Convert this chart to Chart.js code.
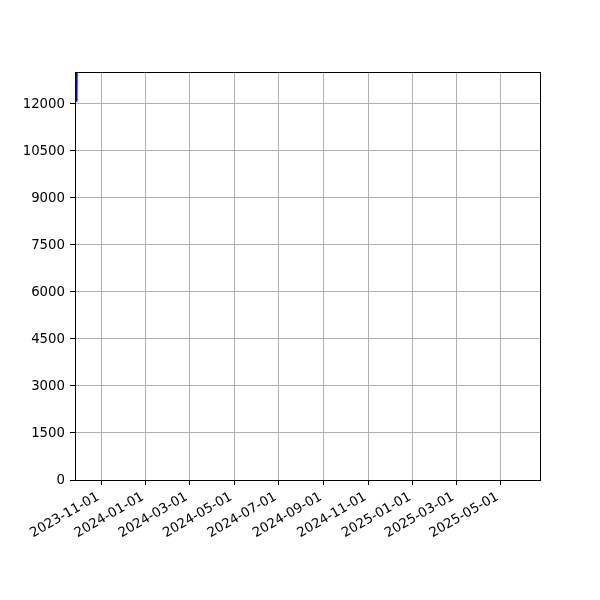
<!DOCTYPE html>
<html>
<head>
<meta charset="utf-8">
<script src="https://cdn.jsdelivr.net/npm/chart.js@4/dist/chart.umd.min.js"></script>
<style>
html,body{margin:0;padding:0;background:#fff;}
#wrap{width:600px;height:600px;}
</style>
</head>
<body>
<div id="wrap"><canvas id="c" width="600" height="600"></canvas></div>
<script>
const dates = ['2023-09-28', '2023-09-29'];
const values = [12050, 15000];
const xTickLabels = ['2023-11-01','2024-01-01','2024-03-01','2024-05-01','2024-07-01','2024-09-01','2024-11-01','2025-01-01','2025-03-01','2025-05-01'];
const yTickValues = [0,1500,3000,4500,6000,7500,9000,10500,12000];
const xRange = ['2023-09-26', '2025-06-24'];
const yRange = [0, 13000];

const toMs = s => Date.parse(s + 'T00:00:00Z');
const fmt = ms => new Date(ms).toISOString().slice(0,10);

const boxPlugin = {
  id: 'box',
  afterDraw(chart) {
    const a = chart.chartArea, ctx = chart.ctx;
    ctx.save();
    ctx.strokeStyle = '#000';
    ctx.lineWidth = 1;
    ctx.strokeRect(Math.round(a.left)+0.5, Math.round(a.top)+0.5, Math.round(a.right-a.left), Math.round(a.bottom-a.top));
    ctx.restore();
  }
};

new Chart(document.getElementById('c'), {
  type: 'line',
  data: {
    datasets: [{
      data: dates.map((d,i) => ({x: toMs(d), y: values[i]})),
      borderColor: '#0000ff',
      borderWidth: 2,
      pointRadius: 0,
      fill: false,
      tension: 0
    }]
  },
  options: {
    responsive: false,
    animation: false,
    devicePixelRatio: 1,
    layout: { padding: { top: 72, right: 60, left: 0, bottom: 0 } },
    plugins: { legend: { display: false }, tooltip: { enabled: false } },
    scales: {
      x: {
        type: 'linear',
        min: toMs(xRange[0]),
        max: toMs(xRange[1]),
        afterBuildTicks: s => { s.ticks = xTickLabels.map(t => ({value: toMs(t)})); },
        afterFit: s => { s.height = 120; },
        grid: { color: '#b0b0b0', lineWidth: 1, tickColor: '#000', tickLength: 5, drawTicks: true },
        border: { color: '#000', width: 1 },
        ticks: {
          autoSkip: false,
          minRotation: 30, maxRotation: 30,
          color: '#000',
          padding: 4,
          labelOffset: -3,
          font: { family: 'DejaVu Sans', size: 13.3 },
          callback: v => fmt(v)
        }
      },
      y: {
        type: 'linear',
        min: yRange[0],
        max: yRange[1],
        afterBuildTicks: s => { s.ticks = yTickValues.map(v => ({value: v})); },
        afterFit: s => { s.width = 75; },
        grid: { color: '#b0b0b0', lineWidth: 1, tickColor: '#000', tickLength: 5, drawTicks: true },
        border: { color: '#000', width: 1 },
        ticks: {
          color: '#000',
          padding: 5,
          labelOffset: 1,
          font: { family: 'DejaVu Sans', size: 13.3 },
          callback: v => String(v)
        }
      }
    }
  },
  plugins: [boxPlugin]
});
</script>
</body>
</html>
